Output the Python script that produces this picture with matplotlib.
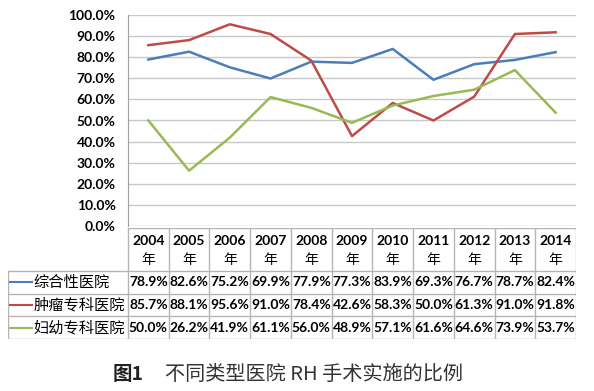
import numpy as np
import matplotlib
matplotlib.use('Agg')
import matplotlib.pyplot as plt

plt.rcParams['font.family'] = ['Lato', 'Noto Sans CJK SC', 'DejaVu Sans']

years = ['2004', '2005', '2006', '2007', '2008', '2009', '2010', '2011', '2012', '2013', '2014']
series_names = ['综合性医院', '肿瘤专科医院', '妇幼专科医院']
general = [78.9, 82.6, 75.2, 69.9, 77.9, 77.3, 83.9, 69.3, 76.7, 78.7, 82.4]
tumor = [85.7, 88.1, 95.6, 91.0, 78.4, 42.6, 58.3, 50.0, 61.3, 91.0, 91.8]
maternal = [50.0, 26.2, 41.9, 61.1, 56.0, 48.9, 57.1, 61.6, 64.6, 73.9, 53.7]
colors = ['#4A7EBB', '#BE4B48', '#98B954']
caption_num = '图1'
caption_text = '不同类型医院 RH 手术实施的比例'

W, H = 594, 391
fig = plt.figure(figsize=(W / 100, H / 100), dpi=100)
cjk = ['Noto Sans CJK SC', 'DejaVu Sans']


def box(x0, y0, x1, y1):
    # pixel box (top-left origin) -> figure fraction
    return [x0 / W, 1 - y1 / H, (x1 - x0) / W, (y1 - y0) / H]


# ---- line chart
px0, px1 = 128, 576
ax = fig.add_axes(box(px0, 15, px1, 226))
x = np.arange(len(years))
for vals, c in zip([general, tumor, maternal], colors):
    ax.plot(x, np.array(vals) / 100, color=c, lw=1.8)
ax.set_xlim(-0.5, len(years) - 0.5)
ax.set_ylim(0, 1)
ax.set_yticks(np.linspace(0, 1, 11))
ax.set_yticklabels(['%.1f%%' % (v * 100) for v in np.linspace(0, 1, 11)],
                   fontsize=10, fontweight='bold')
ax.set_xticks([])
ax.grid(axis='y', color='#c8c8c8', lw=1)
ax.set_axisbelow(True)
ax.tick_params(axis='y', length=0, pad=9)
for s in ['top', 'right', 'bottom']:
    ax.spines[s].set_visible(False)
ax.spines['left'].set_color('#a0a0a0')

# ---- data table under the chart
tx0 = 8
unit = (px1 - px0) / len(years)
lead = (px0 - tx0) / unit
tb = fig.add_axes(box(tx0, 228, px1, 339))
tb.set_xlim(-0.5 - lead, len(years) - 0.5)
tb.set_ylim(111, 0)
tb.axis('off')
row_edges = [0, 43, 65.5, 88, 111]
lc = '#b4b4b4'
tb.plot([-0.5, len(years) - 0.5], [0, 0], color=lc, lw=1)
for yy in row_edges[1:]:
    tb.plot([-0.5 - lead, len(years) - 0.5], [yy, yy], color=lc, lw=1)
for i in range(len(years) + 1):
    tb.plot([i - 0.5, i - 0.5], [0, 111], color=lc, lw=1)
tb.plot([-0.5 - lead] * 2, [43, 111], color=lc, lw=1)

for i, yr in enumerate(years):
    tb.text(i, 13, yr, ha='center', va='center', fontsize=10, fontweight='bold')
    tb.text(i, 32, '年', ha='center', va='center', fontsize=10, family=cjk)

for r, (name, vals, c) in enumerate(zip(series_names, [general, tumor, maternal], colors)):
    yc = (row_edges[r + 1] + row_edges[r + 2]) / 2
    tb.plot([-0.5 - lead + 0.05, -0.5 - lead + 0.6], [yc, yc], color=c, lw=1.5)
    tb.text(-0.5 - lead + 0.63, yc, name, ha='left', va='center', fontsize=11,
            family=cjk)
    for i, v in enumerate(vals):
        tb.text(i, yc, '%.1f%%' % v, ha='center', va='center', fontsize=10,
                fontweight='bold')

# ---- caption
fig.text(113 / W, 1 - 375 / H, caption_num, ha='left', va='center', fontsize=14,
         fontweight='bold', family=cjk, color='#222222')
fig.text(165 / W, 1 - 375 / H, caption_text, ha='left', va='center',
         fontsize=14.5, family=cjk, color='#333333')

fig.savefig('out.png', dpi=100)
